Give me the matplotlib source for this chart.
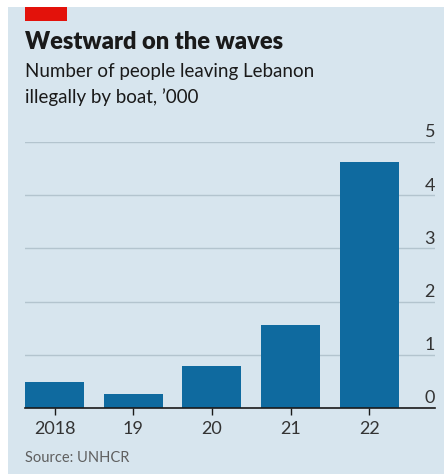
import matplotlib
matplotlib.use("Agg")
import matplotlib.pyplot as plt
from matplotlib.patches import Rectangle
import matplotlib.transforms as mtransforms

years = ["2018", "19", "20", "21", "22"]
values = [0.49, 0.26, 0.79, 1.56, 4.63]
yticks = [0, 1, 2, 3, 4, 5]

BG = "#d7e5ee"
BAR = "#0f6a9f"
GRID = "#b3c4ce"

plt.rcParams['font.family'] = ['Lato', 'DejaVu Sans']

fig = plt.figure(figsize=(4.44, 4.75), dpi=100)
fig.patch.set_facecolor("white")
W, H = 444, 475
fig.patches.append(Rectangle((8 / W, 1 / H), 1 - 8 / W, 1 - 8 / H, transform=fig.transFigure,
                             facecolor=BG, edgecolor="none", zorder=-2))
fig.patches.append(Rectangle((25 / W, 1 - 21 / H), 42 / W, 14 / H, transform=fig.transFigure,
                             facecolor="#e3120b", edgecolor="none", zorder=-1))

fig.text(25 / W, 1 - 42 / H, "Westward on the waves", fontsize=17, fontweight="heavy",
         color="#1a1a1a", va="center", ha="left")
fig.text(25 / W, 1 - 72 / H, "Number of people leaving Lebanon", fontsize=13.5,
         color="#1a1a1a", va="center", ha="left")
fig.text(25 / W, 1 - 97 / H, "illegally by boat, \u2019000", fontsize=13.5,
         color="#1a1a1a", va="center", ha="left")
fig.text(25 / W, 1 - 458 / H, "Source: UNHCR", fontsize=10.5, color="#5f5f5f",
         va="center", ha="left")

ax = fig.add_axes([25 / W, 1 - 408 / H, 410 / W, 266 / H])
ax.set_zorder(2)
ax.set_facecolor("none")
x = list(range(len(years)))
ax.bar(x, values, width=0.75, color=BAR, zorder=3)
ax.set_xlim(-0.375, 4.834)
ax.set_ylim(0, 5)

for s in ["top", "right", "left"]:
    ax.spines[s].set_visible(False)
ax.spines["bottom"].set_color("#1a1a1a")
ax.spines["bottom"].set_linewidth(1.2)
ax.spines["bottom"].set_zorder(4)

ax.set_yticks(yticks)
ax.yaxis.grid(True, color=GRID, linewidth=1)
ax.set_axisbelow(True)
ax.tick_params(axis="y", length=0, labelleft=False)

trans = mtransforms.blended_transform_factory(ax.transAxes, ax.transData)
for t in yticks:
    ax.text(1.0, t + 0.03, str(t), transform=trans, ha="right", va="bottom",
            fontsize=13, color="#333333")

ax.set_xticks(x)
ax.set_xticklabels(years, fontsize=13)
ax.tick_params(axis="x", length=5, width=1, color="#1a1a1a", pad=4, labelcolor="#333333")

fig.savefig("out.png", dpi=100, facecolor=fig.get_facecolor())
